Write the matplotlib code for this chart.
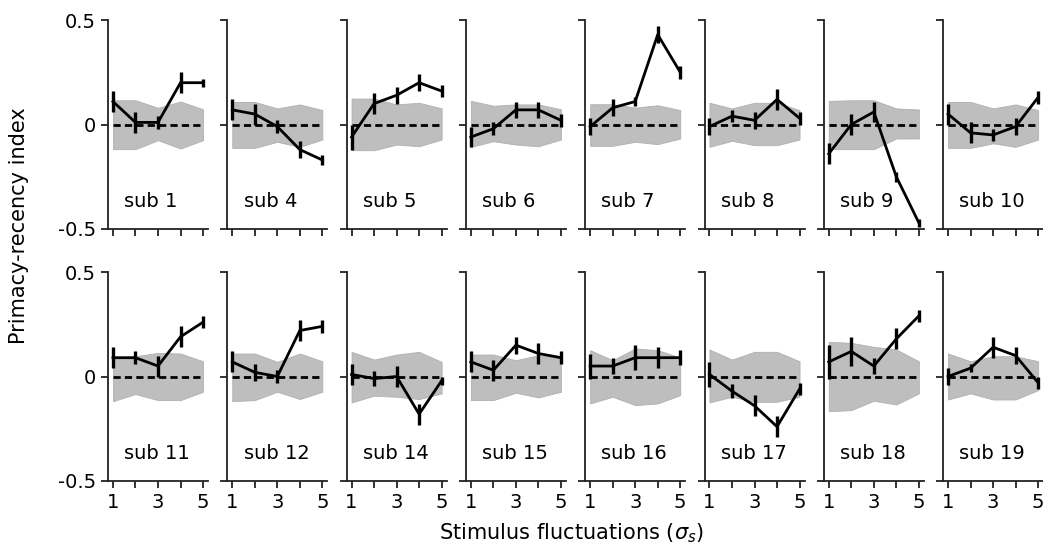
import numpy as np
import matplotlib.pyplot as plt

# Primacy-recency index per subject across stimulus fluctuation levels
levels = [1, 2, 3, 4, 5]
subjects = [1, 4, 5, 6, 7, 8, 9, 10, 11, 12, 14, 15, 16, 17, 18, 19]

pri_mean = [
    [0.11, 0.01, 0.01, 0.20, 0.20],
    [0.07, 0.05, -0.01, -0.12, -0.17],
    [-0.06, 0.10, 0.14, 0.20, 0.16],
    [-0.06, -0.02, 0.07, 0.07, 0.02],
    [-0.01, 0.08, 0.11, 0.43, 0.25],
    [-0.01, 0.04, 0.02, 0.12, 0.03],
    [-0.14, 0.00, 0.06, -0.25, -0.47],
    [0.05, -0.04, -0.05, -0.01, 0.13],
    [0.09, 0.09, 0.05, 0.19, 0.26],
    [0.07, 0.02, 0.00, 0.22, 0.24],
    [0.01, -0.01, 0.00, -0.18, -0.02],
    [0.07, 0.03, 0.15, 0.11, 0.09],
    [0.05, 0.05, 0.09, 0.09, 0.09],
    [0.01, -0.07, -0.14, -0.24, -0.06],
    [0.07, 0.12, 0.05, 0.18, 0.29],
    [0.00, 0.04, 0.14, 0.10, -0.03],
]

pri_err = [
    [0.05, 0.05, 0.03, 0.05, 0.02],
    [0.05, 0.05, 0.03, 0.04, 0.025],
    [0.06, 0.05, 0.04, 0.04, 0.03],
    [0.05, 0.03, 0.04, 0.04, 0.03],
    [0.04, 0.04, 0.02, 0.04, 0.03],
    [0.04, 0.03, 0.04, 0.05, 0.03],
    [0.05, 0.05, 0.05, 0.025, 0.02],
    [0.05, 0.05, 0.03, 0.04, 0.03],
    [0.05, 0.03, 0.05, 0.05, 0.03],
    [0.05, 0.04, 0.03, 0.05, 0.03],
    [0.05, 0.035, 0.05, 0.05, 0.02],
    [0.05, 0.05, 0.04, 0.05, 0.03],
    [0.06, 0.04, 0.06, 0.05, 0.035],
    [0.06, 0.035, 0.05, 0.05, 0.03],
    [0.08, 0.07, 0.04, 0.05, 0.03],
    [0.04, 0.02, 0.05, 0.04, 0.03],
]

# shuffled-data null band (upper / lower bounds)
null_hi = [
    [0.116, 0.116, 0.08, 0.11, 0.073],
    [0.108, 0.108, 0.077, 0.096, 0.069],
    [0.124, 0.124, 0.096, 0.104, 0.077],
    [0.113, 0.09, 0.096, 0.096, 0.073],
    [0.097, 0.097, 0.081, 0.092, 0.069],
    [0.104, 0.077, 0.104, 0.104, 0.069],
    [0.113, 0.116, 0.116, 0.077, 0.072],
    [0.108, 0.108, 0.077, 0.096, 0.069],
    [0.086, 0.097, 0.113, 0.11, 0.073],
    [0.11, 0.11, 0.07, 0.11, 0.073],
    [0.118, 0.081, 0.105, 0.118, 0.07],
    [0.105, 0.105, 0.078, 0.102, 0.086],
    [0.126, 0.078, 0.134, 0.126, 0.091],
    [0.129, 0.081, 0.118, 0.118, 0.073],
    [0.166, 0.161, 0.142, 0.129, 0.073],
    [0.11, 0.073, 0.097, 0.097, 0.073],
]
null_lo = [
    [-0.118, -0.118, -0.075, -0.115, -0.075],
    [-0.112, -0.112, -0.083, -0.107, -0.072],
    [-0.123, -0.123, -0.096, -0.104, -0.072],
    [-0.107, -0.08, -0.096, -0.104, -0.072],
    [-0.102, -0.102, -0.083, -0.094, -0.067],
    [-0.107, -0.078, -0.099, -0.099, -0.072],
    [-0.118, -0.118, -0.118, -0.067, -0.067],
    [-0.112, -0.112, -0.09, -0.107, -0.072],
    [-0.118, -0.084, -0.113, -0.113, -0.073],
    [-0.118, -0.113, -0.073, -0.108, -0.073],
    [-0.124, -0.092, -0.097, -0.108, -0.081],
    [-0.113, -0.113, -0.078, -0.1, -0.073],
    [-0.129, -0.097, -0.137, -0.129, -0.089],
    [-0.124, -0.097, -0.121, -0.121, -0.097],
    [-0.166, -0.161, -0.116, -0.134, -0.081],
    [-0.11, -0.081, -0.11, -0.11, -0.065],
]

plt.rcParams['font.size'] = 14

fig = plt.figure(figsize=(10.43, 5.45), dpi=100)

left0 = 108 / 1043
w = 100 / 1043
step = 119.3 / 1043
row_bottom = [1 - 229 / 545, 1 - 481 / 545]
h = 209 / 545

for i, sub in enumerate(subjects):
    r, c = divmod(i, 8)
    ax = fig.add_axes([left0 + c * step, row_bottom[r], w, h])

    ax.fill_between(levels, null_lo[i], null_hi[i], color='#bebebe',
                    edgecolor='#b0b0b0', lw=0.6)
    ax.plot([1, 5], [0, 0], '--', color='black', lw=2, dashes=(2.6, 1.5))
    ax.errorbar(levels, pri_mean[i], yerr=pri_err[i], color='black',
                lw=2, elinewidth=2.4, capsize=0)
    ax.text(1.5, -0.37, 'sub %d' % sub, ha='left', va='center', fontsize=14)

    ax.set_xlim(0.78, 5.22)
    ax.set_ylim(-0.5, 0.5)
    ax.set_xticks(levels)
    ax.set_yticks([-0.5, 0, 0.5])
    ax.spines['top'].set_visible(False)
    ax.spines['right'].set_visible(False)
    for s in ['left', 'bottom']:
        ax.spines[s].set_linewidth(1.3)
        ax.spines[s].set_color('#222222')
    ax.tick_params(length=5, width=1.3, color='#222222', labelsize=14)

    if r == 1:
        ax.set_xticklabels(['1', '', '3', '', '5'])
    else:
        ax.set_xticklabels([])
    if c == 0:
        ax.set_yticklabels(['-0.5', '0', '0.5'])
    else:
        ax.set_yticklabels([])

fig.text(0.018, 1 - 226 / 545, 'Primacy-recency index', rotation=90,
         ha='center', va='center', fontsize=15)
fig.text(571 / 1043, 1 - 533 / 545, r'Stimulus fluctuations ($\sigma_s$)',
         ha='center', va='center', fontsize=15)

fig.savefig('out.png', dpi=100)
